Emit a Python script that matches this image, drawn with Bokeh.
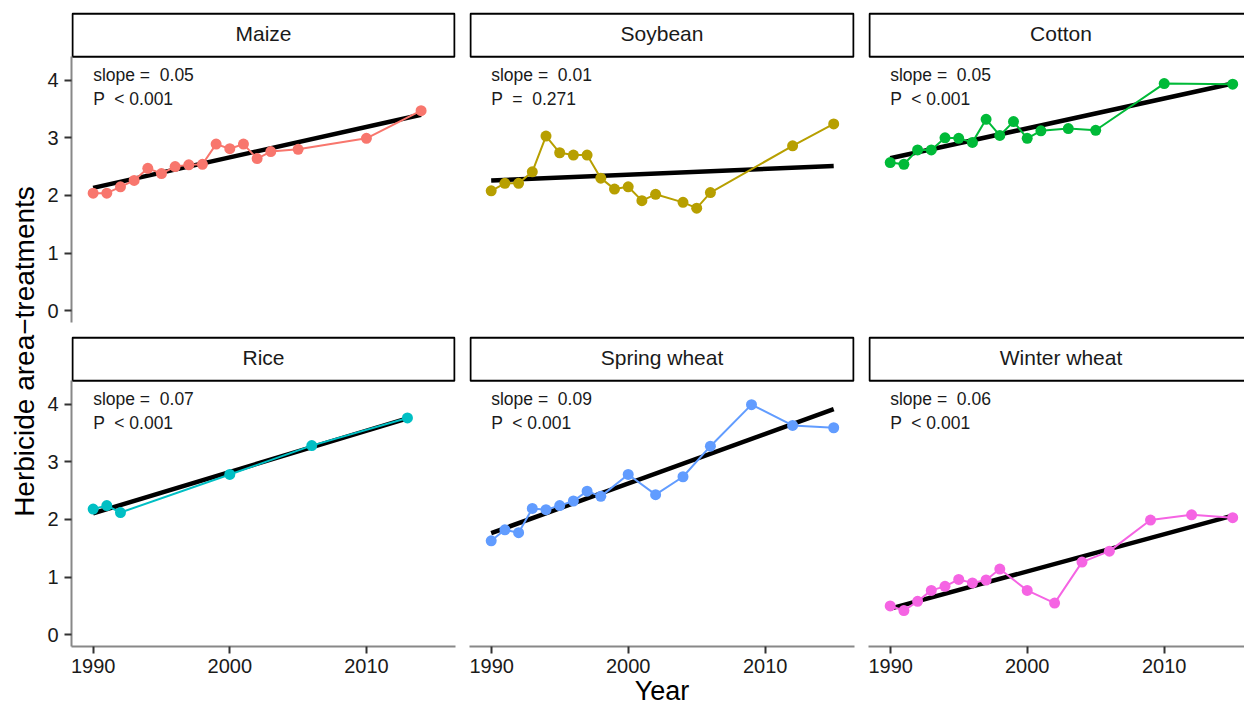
import math
from bokeh.plotting import figure
from bokeh.layouts import row, column
from bokeh.models import Range1d, FixedTicker
from bokeh.embed import file_html
from bokeh.resources import INLINE
from bokeh.core.properties import value

# ---------------- data ----------------
crops = ["Maize", "Soybean", "Cotton", "Rice", "Spring wheat", "Winter wheat"]
colors = ["#F8766D", "#B79F00", "#00BA38", "#00BFC4", "#619CFF", "#F564E3"]

maize_year = [1990, 1991, 1992, 1993, 1994, 1995, 1996, 1997, 1998, 1999, 2000, 2001, 2002, 2003, 2005, 2010, 2014]
maize_val = [2.04, 2.04, 2.15, 2.26, 2.47, 2.38, 2.50, 2.53, 2.54, 2.89, 2.81, 2.89, 2.64, 2.76, 2.80, 2.99, 3.47]

soy_year = [1990, 1991, 1992, 1993, 1994, 1995, 1996, 1997, 1998, 1999, 2000, 2001, 2002, 2004, 2005, 2006, 2012, 2015]
soy_val = [2.08, 2.21, 2.21, 2.41, 3.03, 2.74, 2.70, 2.70, 2.30, 2.11, 2.15, 1.91, 2.02, 1.88, 1.78, 2.05, 2.86, 3.24]

cotton_year = [1990, 1991, 1992, 1993, 1994, 1995, 1996, 1997, 1998, 1999, 2000, 2001, 2003, 2005, 2010, 2015]
cotton_val = [2.57, 2.54, 2.79, 2.79, 3.00, 2.99, 2.92, 3.32, 3.04, 3.28, 2.99, 3.12, 3.16, 3.13, 3.94, 3.93]

rice_year = [1990, 1991, 1992, 2000, 2006, 2013]
rice_val = [2.18, 2.24, 2.12, 2.78, 3.28, 3.76]

spring_year = [1990, 1991, 1992, 1993, 1994, 1995, 1996, 1997, 1998, 2000, 2002, 2004, 2006, 2009, 2012, 2015]
spring_val = [1.63, 1.82, 1.77, 2.19, 2.17, 2.24, 2.32, 2.49, 2.40, 2.78, 2.43, 2.74, 3.27, 3.99, 3.63, 3.59]

winter_year = [1990, 1991, 1992, 1993, 1994, 1995, 1996, 1997, 1998, 2000, 2002, 2004, 2006, 2009, 2012, 2015]
winter_val = [0.50, 0.42, 0.58, 0.77, 0.84, 0.96, 0.90, 0.95, 1.14, 0.77, 0.55, 1.26, 1.45, 1.99, 2.08, 2.03]

NB = "\u00a0"
slope_labels = ["slope = " + NB + "0.05", "slope = " + NB + "0.01", "slope = " + NB + "0.05",
                "slope = " + NB + "0.07", "slope = " + NB + "0.09", "slope = " + NB + "0.06"]
p_labels = ["P " + NB + "< 0.001", "P " + NB + "= " + NB + "0.271", "P " + NB + "< 0.001",
            "P " + NB + "< 0.001", "P " + NB + "< 0.001", "P " + NB + "< 0.001"]

x_ticks = [1990, 2000, 2010]
y_ticks = [0, 1, 2, 3, 4]
x_title = "Year"
y_title = "Herbicide area\u2212treatments"

series = [(maize_year, maize_val), (soy_year, soy_val), (cotton_year, cotton_val),
          (rice_year, rice_val), (spring_year, spring_val), (winter_year, winter_val)]

# ---------------- layout constants ----------------
FONT = "Liberation Sans"
PX_YR = 13.7
PX_UNIT = 57.675
X0 = 1988.416
Y0 = -0.203
PANEL_TOP = 4.404
STRIP_H = 43 / PX_UNIT
FRAME_H = 311
FULL_W = 385
AXIS_GREY = "#888888"
YLAB_W = 44


def linfit(xs, ys):
    n = len(xs)
    mx = sum(xs) / n
    my = sum(ys) / n
    sxx = sum((x - mx) ** 2 for x in xs)
    sxy = sum((x - mx) * (y - my) for x, y in zip(xs, ys))
    b = sxy / sxx
    return b, my - b * mx


def make_panel(i):
    r, c = divmod(i, 3)
    top_row = r == 0
    left_col = c == 0
    right_col = c == 2
    frame_w = 376 if right_col else FULL_W
    mb_left = (70 - YLAB_W) if left_col else 0
    mb_right = 0 if right_col else 14
    mb_top = 11 if top_row else 0
    mb_bottom = 13 if top_row else (709 - 335 - FRAME_H)
    width = frame_w + mb_left + mb_right
    height = FRAME_H + mb_top + mb_bottom
    x1 = X0 + frame_w / PX_YR
    y1 = Y0 + FRAME_H / PX_UNIT
    p = figure(width=width, height=height,
               x_range=Range1d(X0, x1), y_range=Range1d(Y0, y1),
               output_backend="svg", toolbar_location=None,
               x_axis_location=None if top_row else "below",
               y_axis_location="left" if left_col else None,
               min_border_left=mb_left, min_border_right=mb_right,
               min_border_top=mb_top, min_border_bottom=mb_bottom,
               title=None)
    p.outline_line_color = None
    p.background_fill_color = "white"
    p.border_fill_color = "white"
    p.grid.visible = False

    for ax in p.xaxis + p.yaxis:
        ax.axis_line_color = AXIS_GREY
        ax.axis_line_width = 2
        ax.major_tick_line_color = "#333333"
        ax.major_tick_line_width = 2
        ax.major_tick_out = 7
        ax.major_tick_in = 0
        ax.minor_tick_line_color = None
        ax.major_label_text_font = FONT
        ax.major_label_text_font_size = "20px"
        ax.major_label_text_color = "#1a1a1a"
    for ax in p.yaxis:
        ax.ticker = FixedTicker(ticks=y_ticks)
        ax.bounds = (Y0, PANEL_TOP)
        ax.major_label_standoff = 6
    for ax in p.xaxis:
        ax.ticker = FixedTicker(ticks=x_ticks)
        ax.major_label_standoff = 5
        if i == 4:
            ax.axis_label = x_title
            ax.axis_label_text_font = FONT
            ax.axis_label_text_font_size = "27px"
            ax.axis_label_text_font_style = "normal"
            ax.axis_label_text_color = "black"
            ax.axis_label_standoff = 0

    xs, ys = series[i]
    b, a = linfit(xs, ys)
    fx = [min(xs), max(xs)]
    fy = [a + b * v for v in fx]
    p.line(fx, fy, line_color="black", line_width=4.5)
    p.line(xs, ys, line_color=colors[i], line_width=2)
    p.scatter(xs, ys, size=11, fill_color=colors[i], line_color=None)

    p.text(x=[1990], y=[4.09], text=[slope_labels[i]], text_font=value(FONT),
           text_font_size="17.5px", text_color="#1a1a1a", text_align="left", text_baseline="alphabetic")
    p.text(x=[1990], y=[3.675], text=[p_labels[i]], text_font=value(FONT),
           text_font_size="17.5px", text_color="#1a1a1a", text_align="left", text_baseline="alphabetic")

    # strip
    s_left = X0 + 1 / PX_YR
    s_right = X0 + (FULL_W - 1) / PX_YR
    p.quad(left=[s_left], right=[s_right], bottom=[PANEL_TOP], top=[PANEL_TOP + STRIP_H],
           fill_color="white", line_color="black", line_width=2)
    p.text(x=[X0 + FULL_W / 2 / PX_YR], y=[PANEL_TOP + STRIP_H / 2 + 2 / PX_UNIT], text=[crops[i]],
           text_font=value(FONT), text_font_size="21px", text_color="#1a1a1a",
           text_align="center", text_baseline="middle")
    return p


panels = [make_panel(i) for i in range(6)]

ylab = figure(width=YLAB_W, height=709, x_range=Range1d(0, YLAB_W), y_range=Range1d(0, 709),
              output_backend="svg", toolbar_location=None, x_axis_location=None,
              y_axis_location=None, min_border=0, title=None)
ylab.outline_line_color = None
ylab.grid.visible = False
ylab.text(x=[24], y=[709 - 351], text=[y_title], angle=math.pi / 2, text_font=value(FONT),
          text_font_size="28px", text_color="black", text_align="center", text_baseline="middle")

layout = row(ylab,
             column(panels[0], panels[3]),
             column(panels[1], panels[4]),
             column(panels[2], panels[5]))

open("out.html", "w").write(file_html(layout, INLINE))
